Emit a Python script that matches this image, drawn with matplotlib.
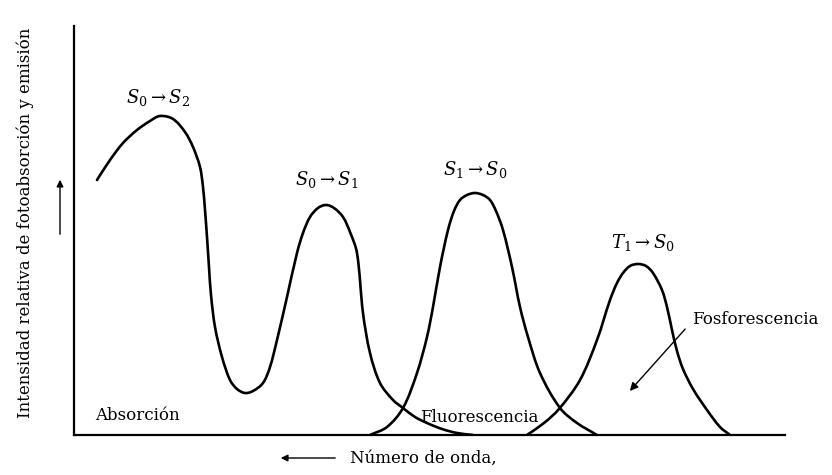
import numpy as np
import matplotlib.pyplot as plt
from matplotlib.path import Path
from matplotlib.patches import PathPatch

plt.rcParams['font.family'] = ['DejaVu Serif']
plt.rcParams['mathtext.fontset'] = 'dejavuserif'

# absorption band (S0->S2 and S0->S1)
abs_x = [23, 36, 49, 63, 76, 86, 99, 111, 119, 126, 129, 131, 133, 135, 137, 141, 148,
         156, 163, 171, 179, 189, 196, 203, 213, 223, 229, 236, 244, 252, 260, 269, 276,
         283, 289, 296, 306, 319, 329, 341, 353, 368, 383, 399]
abs_y = [255, 275, 292, 305, 314, 319, 316, 303, 288, 268, 248, 225, 198, 168, 140,
         108, 78, 55, 46, 42, 44, 52, 68, 95, 138, 182, 202, 218, 227, 230, 227, 218,
         203, 182, 122, 82, 52, 35, 27, 18, 12, 6, 2, 0]

# fluorescence S1->S0
flu_x = [296, 313, 329, 343, 353, 359, 366, 374, 380, 386, 393, 401, 409, 416, 422,
         429, 438, 446, 454, 466, 486, 503, 523]
flu_y = [0, 8, 27, 62, 98, 128, 168, 205, 224, 235, 240, 242, 240, 235, 224, 205,
         168, 128, 98, 62, 27, 12, 0]

# phosphorescence T1->S0
fos_x = [453, 470, 485, 506, 523, 536, 543, 549, 556, 564, 572, 579, 588, 593, 598,
         603, 609, 619, 633, 646, 656]
fos_y = [0, 12, 26, 55, 95, 135, 152, 162, 169, 171, 169, 162, 145, 128, 105, 84,
         66, 46, 25, 8, 0]

band_labels = [r'$S_0 \rightarrow S_2$', r'$S_0 \rightarrow S_1$',
               r'$S_1 \rightarrow S_0$', r'$T_1 \rightarrow S_0$']
band_lx = [84, 253, 401, 569]
band_ly = [337, 255, 265, 192]


def smooth_path(xs, ys):
    # bezier segments through the read points, tangents from neighbours
    p = np.column_stack([xs, ys]).astype(float)
    n = len(p)
    tang = np.zeros_like(p)
    for i in range(n):
        a = p[max(i - 1, 0)]
        b = p[min(i + 1, n - 1)]
        t = b - a
        tang[i] = t / np.hypot(*t)
    verts = [p[0]]
    codes = [Path.MOVETO]
    for i in range(n - 1):
        d = np.hypot(*(p[i + 1] - p[i])) / 3
        verts += [p[i] + tang[i] * d, p[i + 1] - tang[i + 1] * d, p[i + 1]]
        codes += [Path.CURVE4] * 3
    return Path(verts, codes)


fig = plt.figure(figsize=(8.32, 4.75), dpi=100)
ax = fig.add_axes([74 / 832, 40 / 475, 711 / 832, 409 / 475])

for xs, ys in [(abs_x, abs_y), (flu_x, flu_y), (fos_x, fos_y)]:
    ax.add_patch(PathPatch(smooth_path(xs, ys), facecolor='none', edgecolor='black',
                           lw=1.9, capstyle='round', joinstyle='round'))

ax.set_xlim(0, 711)
ax.set_ylim(0, 409)
ax.set_xticks([])
ax.set_yticks([])
for s in ['top', 'right']:
    ax.spines[s].set_visible(False)
for s in ['left', 'bottom']:
    ax.spines[s].set_linewidth(1.6)

for lab, x, y in zip(band_labels, band_lx, band_ly):
    ax.text(x, y, lab, fontsize=13, ha='center', va='center')

ax.text(21, 20, 'Absorción', fontsize=12, va='center', ha='left')
ax.text(346, 18, 'Fluorescencia', fontsize=12, va='center', ha='left')
ax.text(618, 115, 'Fosforescencia', fontsize=12, va='center', ha='left')
ax.annotate('', xy=(554, 42), xytext=(613, 108),
            arrowprops=dict(arrowstyle='-|>', color='black', lw=1.0, mutation_scale=12))

# axis annotations
ax.text(-49, 212, 'Intensidad relativa de fotoabsorción y emisión', fontsize=12,
        rotation=90, ha='center', va='center', clip_on=False)
ax.annotate('', xy=(-14, 258), xytext=(-14, 198), annotation_clip=False,
            arrowprops=dict(arrowstyle='-|>', color='black', lw=1.0, mutation_scale=10))
ax.annotate('', xy=(204, -23), xytext=(264, -23), annotation_clip=False,
            arrowprops=dict(arrowstyle='-|>', color='black', lw=1.0, mutation_scale=10))
ax.text(276, -23, 'Número de onda,', fontsize=12, ha='left', va='center', clip_on=False)

fig.savefig('out.png', dpi=100)
